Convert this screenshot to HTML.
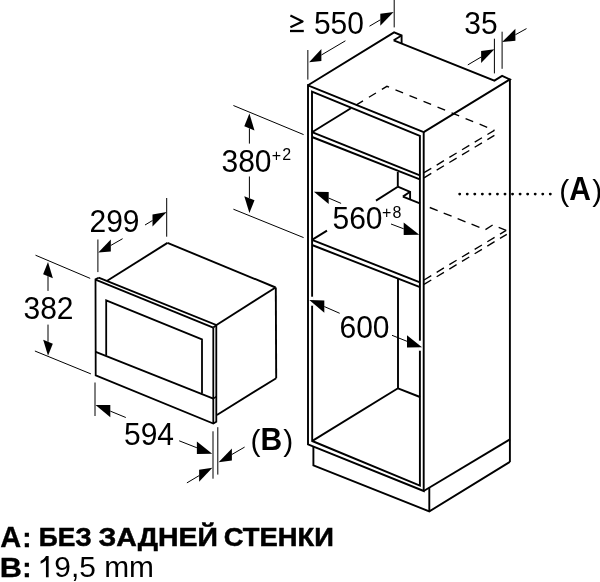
<!DOCTYPE html>
<html><head><meta charset="utf-8"><style>
html,body{margin:0;padding:0;background:#fff;}
svg{display:block;will-change:transform;}
text{font-family:"Liberation Sans",sans-serif;fill:#000;}
</style></head><body>
<svg width="600" height="582" viewBox="0 0 600 582">
<rect width="600" height="582" fill="#fff"/>
<g stroke="#000" fill="none" stroke-linecap="butt" stroke-linejoin="miter">
<polyline points="308.00,85.30 394.10,32.40 401.60,35.50 401.60,43.40" stroke-width="1.9" fill="none"/>
<line x1="393.70" y1="40.30" x2="401.60" y2="35.50" stroke-width="1.9"/>
<polyline points="393.70,40.30 494.40,80.60 502.10,75.90 509.90,79.40 423.70,132.10" stroke-width="1.9" fill="none"/>
<line x1="509.90" y1="79.40" x2="509.90" y2="462.00" stroke-width="1.9"/>
<polyline points="423.70,132.10 308.00,85.30 308.00,444.30 423.70,491.00 423.70,132.10" stroke-width="1.9" fill="none"/>
<polygon points="312.00,91.60 419.90,135.80 419.90,485.60 312.20,441.00 312.00,91.60" stroke-width="1.9" fill="none"/>
<line x1="423.70" y1="491.00" x2="509.90" y2="439.40" stroke-width="1.9"/>
<polyline points="313.40,446.40 313.40,465.40 429.30,511.40 509.90,461.90" stroke-width="1.9" fill="none"/>
<line x1="429.30" y1="487.60" x2="429.30" y2="511.40" stroke-width="1.9"/>
<line x1="312.00" y1="132.20" x2="419.90" y2="175.30" stroke-width="1.9"/>
<line x1="312.00" y1="137.00" x2="419.90" y2="179.40" stroke-width="1.9"/>
<line x1="312.00" y1="132.20" x2="350.90" y2="108.20" stroke-width="1.9"/>
<path d="M350.90,108.20 L386.90,86.30 L494.40,130.30" stroke-width="1.35" stroke-dasharray="8.2 6.95" stroke-dashoffset="9.2" fill="none"/>
<line x1="424.00" y1="172.70" x2="494.40" y2="130.30" stroke-width="1.35" stroke-dasharray="8.5 6.3" stroke-dashoffset="0"/>
<line x1="424.00" y1="177.80" x2="494.40" y2="135.30" stroke-width="1.35" stroke-dasharray="8.5 6.3" stroke-dashoffset="0"/>
<line x1="312.00" y1="239.90" x2="420.00" y2="282.30" stroke-width="1.9"/>
<line x1="312.00" y1="245.00" x2="420.00" y2="287.20" stroke-width="1.9"/>
<line x1="312.00" y1="239.90" x2="327.00" y2="230.60" stroke-width="1.9"/>
<line x1="376.00" y1="200.60" x2="397.80" y2="186.70" stroke-width="1.9"/>
<line x1="397.80" y1="172.00" x2="397.80" y2="186.70" stroke-width="1.9"/>
<polyline points="397.80,186.70 410.10,191.80 410.10,199.00" stroke-width="1.9" fill="none"/>
<line x1="402.90" y1="196.60" x2="410.10" y2="191.80" stroke-width="1.9"/>
<line x1="402.90" y1="196.60" x2="419.90" y2="203.30" stroke-width="1.9"/>
<path d="M424.00,205.20 L485.30,229.70 L492.70,225.00 L506.20,230.30" stroke-width="1.35" stroke-dasharray="8.5 6.5" stroke-dashoffset="8.8" fill="none"/>
<line x1="424.00" y1="280.00" x2="506.20" y2="230.30" stroke-width="1.35" stroke-dasharray="8.5 6.3" stroke-dashoffset="0"/>
<line x1="424.00" y1="284.40" x2="506.80" y2="234.30" stroke-width="1.35" stroke-dasharray="8.5 6.3" stroke-dashoffset="0"/>
<line x1="398.00" y1="278.70" x2="398.00" y2="388.30" stroke-width="1.9"/>
<line x1="398.00" y1="388.30" x2="312.40" y2="440.90" stroke-width="1.9"/>
<line x1="398.00" y1="388.30" x2="420.00" y2="397.00" stroke-width="1.9"/>
<polyline points="98.60,277.70 216.10,324.90 216.30,325.40 216.30,421.70 213.30,423.60 95.70,375.30 95.50,279.40 98.60,277.70" stroke-width="1.8" fill="none"/>
<line x1="95.50" y1="279.70" x2="213.20" y2="327.60" stroke-width="1.8"/>
<line x1="213.20" y1="327.60" x2="216.10" y2="325.50" stroke-width="1.8"/>
<line x1="213.30" y1="327.60" x2="213.30" y2="423.30" stroke-width="1.8"/>
<polyline points="106.20,355.60 106.20,300.40 202.00,339.30 202.00,393.60" stroke-width="1.8" fill="none"/>
<line x1="95.70" y1="351.80" x2="213.30" y2="398.60" stroke-width="1.8"/>
<line x1="213.30" y1="398.60" x2="216.30" y2="396.60" stroke-width="1.5"/>
<line x1="107.20" y1="280.80" x2="167.50" y2="242.90" stroke-width="1.9"/>
<line x1="167.50" y1="242.90" x2="275.60" y2="287.50" stroke-width="1.9"/>
<line x1="275.60" y1="287.50" x2="216.10" y2="325.30" stroke-width="1.9"/>
<line x1="275.80" y1="287.50" x2="276.20" y2="378.20" stroke-width="1.9"/>
<line x1="276.20" y1="378.20" x2="216.90" y2="415.00" stroke-width="1.9"/>
<line x1="307.85" y1="50.00" x2="307.85" y2="79.60" stroke-width="1.0"/>
<line x1="394.20" y1="0.00" x2="394.20" y2="27.40" stroke-width="1.0"/>
<polygon points="309.10,62.30 321.40,48.91 321.40,61.11" fill="#000" stroke="none"/>
<line x1="321.40" y1="55.01" x2="345.40" y2="40.80" stroke-width="1.0"/>
<polygon points="393.60,12.00 380.30,13.84 380.30,25.84" fill="#000" stroke="none"/>
<line x1="380.30" y1="19.84" x2="369.50" y2="26.20" stroke-width="1.0"/>
<line x1="494.40" y1="38.70" x2="494.40" y2="73.40" stroke-width="1.0"/>
<line x1="502.10" y1="31.70" x2="502.10" y2="68.80" stroke-width="1.0"/>
<polygon points="494.40,49.20 481.10,51.05 481.10,63.05" fill="#000" stroke="none"/>
<line x1="481.10" y1="57.05" x2="467.80" y2="64.90" stroke-width="1.0"/>
<polygon points="502.10,42.10 515.40,28.74 515.40,40.74" fill="#000" stroke="none"/>
<line x1="515.40" y1="34.74" x2="526.50" y2="28.60" stroke-width="1.0"/>
<line x1="233.40" y1="105.50" x2="303.60" y2="134.60" stroke-width="1.0"/>
<line x1="233.40" y1="209.20" x2="303.60" y2="237.60" stroke-width="1.0"/>
<polygon points="249.40,113.60 244.30,126.36 254.50,130.44" fill="#000" stroke="none"/>
<line x1="249.40" y1="128.40" x2="249.40" y2="143.60" stroke-width="1.0"/>
<polygon points="249.40,213.00 244.30,196.16 254.50,200.24" fill="#000" stroke="none"/>
<line x1="249.40" y1="198.20" x2="249.40" y2="176.50" stroke-width="1.0"/>
<polygon points="313.90,191.70 328.70,192.07 328.70,204.07" fill="#000" stroke="none"/>
<line x1="328.70" y1="198.07" x2="341.10" y2="203.40" stroke-width="1.0"/>
<polygon points="419.30,234.70 403.70,222.60 403.70,235.00" fill="#000" stroke="none"/>
<line x1="403.70" y1="228.80" x2="391.00" y2="224.00" stroke-width="1.0"/>
<line x1="312.00" y1="296.70" x2="312.00" y2="305.70" stroke-width="2.6" stroke="#fff"/>
<polygon points="309.30,300.00 324.30,300.41 324.30,312.71" fill="#000" stroke="none"/>
<line x1="324.30" y1="306.56" x2="339.70" y2="313.30" stroke-width="1.0"/>
<line x1="419.90" y1="340.70" x2="419.90" y2="350.70" stroke-width="2.6" stroke="#fff"/>
<polygon points="422.00,347.30 407.00,335.15 407.00,347.45" fill="#000" stroke="none"/>
<line x1="407.00" y1="341.30" x2="392.00" y2="335.30" stroke-width="1.0"/>
<line x1="166.70" y1="198.00" x2="166.70" y2="236.70" stroke-width="1.0"/>
<line x1="97.90" y1="239.50" x2="97.90" y2="272.10" stroke-width="1.0"/>
<polygon points="166.70,212.00 152.50,214.51 152.50,226.51" fill="#000" stroke="none"/>
<line x1="152.50" y1="220.51" x2="145.00" y2="225.00" stroke-width="1.0"/>
<polygon points="98.30,252.60 110.80,239.45 110.80,251.45" fill="#000" stroke="none"/>
<line x1="110.80" y1="245.45" x2="122.60" y2="238.70" stroke-width="1.0"/>
<line x1="35.50" y1="255.20" x2="90.20" y2="278.40" stroke-width="1.0"/>
<line x1="34.90" y1="351.00" x2="90.90" y2="373.90" stroke-width="1.0"/>
<polygon points="48.00,262.00 43.10,274.14 52.90,278.26" fill="#000" stroke="none"/>
<line x1="48.00" y1="276.20" x2="48.00" y2="290.90" stroke-width="1.0"/>
<polygon points="48.00,355.80 43.20,339.78 52.80,343.82" fill="#000" stroke="none"/>
<line x1="48.00" y1="341.80" x2="48.00" y2="324.60" stroke-width="1.0"/>
<line x1="95.00" y1="382.50" x2="95.00" y2="416.00" stroke-width="1.0"/>
<polygon points="95.50,405.00 110.30,404.91 110.30,417.31" fill="#000" stroke="none"/>
<line x1="110.30" y1="411.11" x2="125.80" y2="417.50" stroke-width="1.0"/>
<polygon points="212.20,453.80 196.90,441.57 196.90,453.97" fill="#000" stroke="none"/>
<line x1="196.90" y1="447.77" x2="179.20" y2="440.80" stroke-width="1.0"/>
<line x1="213.00" y1="431.30" x2="213.00" y2="478.70" stroke-width="1.0"/>
<line x1="217.80" y1="427.20" x2="217.80" y2="474.60" stroke-width="1.0"/>
<polygon points="218.60,462.20 231.90,448.48 231.90,460.48" fill="#000" stroke="none"/>
<line x1="231.90" y1="454.48" x2="244.60" y2="447.10" stroke-width="1.0"/>
<polygon points="212.40,467.70 199.10,469.63 199.10,481.63" fill="#000" stroke="none"/>
<line x1="199.10" y1="475.63" x2="186.90" y2="482.90" stroke-width="1.0"/>
<circle cx="459.70" cy="194.1" r="1.45" fill="#000" stroke="none"/>
<circle cx="467.25" cy="194.1" r="1.45" fill="#000" stroke="none"/>
<circle cx="474.80" cy="194.1" r="1.45" fill="#000" stroke="none"/>
<circle cx="482.35" cy="194.1" r="1.45" fill="#000" stroke="none"/>
<circle cx="489.90" cy="194.1" r="1.45" fill="#000" stroke="none"/>
<circle cx="497.45" cy="194.1" r="1.45" fill="#000" stroke="none"/>
<circle cx="505.00" cy="194.1" r="1.45" fill="#000" stroke="none"/>
<circle cx="512.55" cy="194.1" r="1.45" fill="#000" stroke="none"/>
<circle cx="520.10" cy="194.1" r="1.45" fill="#000" stroke="none"/>
<circle cx="527.65" cy="194.1" r="1.45" fill="#000" stroke="none"/>
<circle cx="535.20" cy="194.1" r="1.45" fill="#000" stroke="none"/>
<circle cx="542.75" cy="194.1" r="1.45" fill="#000" stroke="none"/>
<circle cx="550.30" cy="194.1" r="1.45" fill="#000" stroke="none"/>
<polyline points="290.4,15.6 302.6,21.4 290.4,27.2" stroke-width="2.2" fill="none" stroke-linejoin="round"/>
<line x1="290.00" y1="31.00" x2="303.80" y2="31.00" stroke-width="2.3"/>
<text stroke="none" transform="translate(313.9,34.2) scale(1.0,1.03)" x="0" y="0" font-size="30" font-weight="normal" text-anchor="start">550</text>
<text stroke="none" transform="translate(464.2,34.0) scale(1.0,1.03)" x="0" y="0" font-size="30" font-weight="normal" text-anchor="start">35</text>
<text stroke="none" transform="translate(221.5,171.6) scale(1.0,1.03)" x="0" y="0" font-size="30" font-weight="normal" text-anchor="start">380</text>
<text stroke="none" transform="translate(271.7,160.6) scale(1.0,1.0)" x="0" y="0" font-size="16" font-weight="normal" text-anchor="start">+</text>
<text stroke="none" transform="translate(282.2,160.4) scale(1.0,1.01)" x="0" y="0" font-size="16" font-weight="normal" text-anchor="start">2</text>
<text stroke="none" transform="translate(332.5,228.7) scale(1.0,1.03)" x="0" y="0" font-size="30" font-weight="normal" text-anchor="start">560</text>
<text stroke="none" transform="translate(382.0,218.2) scale(1.0,1.0)" x="0" y="0" font-size="16" font-weight="normal" text-anchor="start">+</text>
<text stroke="none" transform="translate(392.5,218.1) scale(1.0,1.01)" x="0" y="0" font-size="16" font-weight="normal" text-anchor="start">8</text>
<text stroke="none" transform="translate(339.5,338) scale(1.0,1.03)" x="0" y="0" font-size="30" font-weight="normal" text-anchor="start">600</text>
<text stroke="none" transform="translate(89.5,232.0) scale(1.0,1.03)" x="0" y="0" font-size="30" font-weight="normal" text-anchor="start">299</text>
<text stroke="none" transform="translate(23.5,318.8) scale(1.0,1.03)" x="0" y="0" font-size="30" font-weight="normal" text-anchor="start">382</text>
<text stroke="none" transform="translate(124,444.5) scale(1.0,1.03)" x="0" y="0" font-size="30" font-weight="normal" text-anchor="start">594</text>
<text stroke="none" transform="translate(250.5,450.6) scale(1.0,1.0)" x="0" y="0" font-size="30" font-weight="normal" text-anchor="start">(</text>
<text stroke="none" transform="translate(260.5,450.2) scale(1.0,1.05)" x="0" y="0" font-size="30" font-weight="bold" text-anchor="start">B</text>
<text stroke="none" transform="translate(283.2,450.6) scale(1.0,1.0)" x="0" y="0" font-size="30" font-weight="normal" text-anchor="start">)</text>
<text stroke="none" transform="translate(559.2,200.8) scale(1.0,1.0)" x="0" y="0" font-size="30" font-weight="normal" text-anchor="start">(</text>
<text stroke="none" transform="translate(569.3,200.2) scale(1.0,1.08)" x="0" y="0" font-size="30" font-weight="bold" text-anchor="start">A</text>
<text stroke="none" transform="translate(592.3,200.8) scale(1.0,1.0)" x="0" y="0" font-size="30" font-weight="normal" text-anchor="start">)</text>
<text stroke="#000" stroke-width="0.3" transform="translate(0.3,546.7) scale(1.0,1.0)" x="0" y="0" font-size="29" font-weight="bold" text-anchor="start">A</text>
<text stroke="#000" stroke-width="0.3" transform="translate(22.3,546.9) scale(1.0,1.0)" x="0" y="0" font-size="28" font-weight="bold" text-anchor="start">:</text>
<text stroke="#000" stroke-width="0.5" transform="translate(38.8,546.4) scale(1.0,1.0)" x="0" y="0" font-size="25.5" font-weight="bold" text-anchor="start" textLength="53" lengthAdjust="spacingAndGlyphs">БЕЗ</text>
<text stroke="#000" stroke-width="0.5" transform="translate(98.5,546.4) scale(1.0,1.0)" x="0" y="0" font-size="25.5" font-weight="bold" text-anchor="start" textLength="119.5" lengthAdjust="spacingAndGlyphs">ЗАДНЕЙ</text>
<text stroke="#000" stroke-width="0.5" transform="translate(223.8,546.4) scale(1.0,1.0)" x="0" y="0" font-size="25.5" font-weight="bold" text-anchor="start" textLength="110" lengthAdjust="spacingAndGlyphs">СТЕНКИ</text>
<text stroke="#000" stroke-width="0.3" transform="translate(-0.2,576.7) scale(1.1,1.0)" x="0" y="0" font-size="28" font-weight="bold" text-anchor="start">B</text>
<text stroke="#000" stroke-width="0.3" transform="translate(22.3,577.1) scale(1.0,1.0)" x="0" y="0" font-size="28" font-weight="bold" text-anchor="start">:</text>
<path d="M45.95,556.0 L48.65,556.0 L48.65,577.2 L45.95,577.2 L45.95,560.3 C44.6,561.7 42.7,562.9 40.6,563.7 L40.6,561.0 C43.0,559.9 44.9,558.2 45.95,556.0 Z" fill="#000" stroke="none"/>
<text stroke="none" transform="translate(54.3,576.8) scale(1.0,1.1)" x="0" y="0" font-size="27.5" font-weight="normal" text-anchor="start" textLength="99.6" lengthAdjust="spacingAndGlyphs">9,5 mm</text>
</g>
</svg>
</body></html>
